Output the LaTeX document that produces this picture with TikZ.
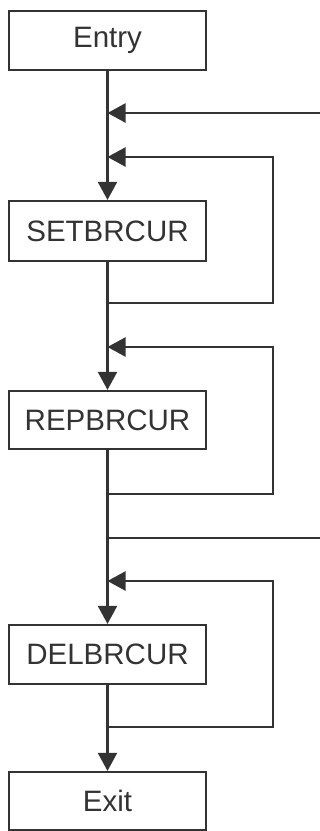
\documentclass[tikz,border=0pt]{standalone}
\usepackage{fontspec}
\setmainfont{Liberation Sans}
\usetikzlibrary{arrows.meta}
\begin{document}
\begin{tikzpicture}[x=1pt,y=-1pt,
  line width=2.2pt, color=black!80,
  box/.style={draw, rectangle, inner sep=0pt, minimum width=197pt,
    font=\fontsize{29.5}{30}\selectfont, text=black!80},
  arr/.style={-{Triangle[length=18pt,width=19pt]}}]
\path[use as bounding box] (0,0) rectangle (320,831);
\node[box, minimum height=59pt] (entry) at (107.5,40.5) {Entry};
\node[box, minimum height=60pt] (set) at (107.5,231) {SETBRCUR};
\node[box, minimum height=58pt] (rep) at (107.5,420) {REPBRCUR};
\node[box, minimum height=59pt] (del) at (107.5,654.5) {DELBRCUR};
\node[box, minimum height=58pt] (exit) at (107.5,801) {Exit};
% junction coordinates
\coordinate (in1) at (107.5,113);
\coordinate (in1r) at (320,113);
\coordinate (l1t) at (107.5,157);
\coordinate (l1b) at (107.5,303);
\coordinate (l2t) at (107.5,347);
\coordinate (l2b) at (107.5,494);
\coordinate (out1) at (107.5,538);
\coordinate (out1r) at (320,538);
\coordinate (l3t) at (107.5,581);
\coordinate (l3b) at (107.5,727);
% main flow
\draw[arr] (entry) -- (set);
\draw[arr] (set) -- (rep);
\draw[arr] (rep) -- (del);
\draw[arr] (del) -- (exit);
% external entry and exit
\draw[arr] (in1r) -- (in1);
\draw (out1) -- (out1r);
% loops
\draw[arr] (l1b) -- (273,303) -- (273,157) -- (l1t);
\draw[arr] (l2b) -- (273,494) -- (273,347) -- (l2t);
\draw[arr] (l3b) -- (273,727) -- (273,581) -- (l3t);
\end{tikzpicture}
\end{document}
